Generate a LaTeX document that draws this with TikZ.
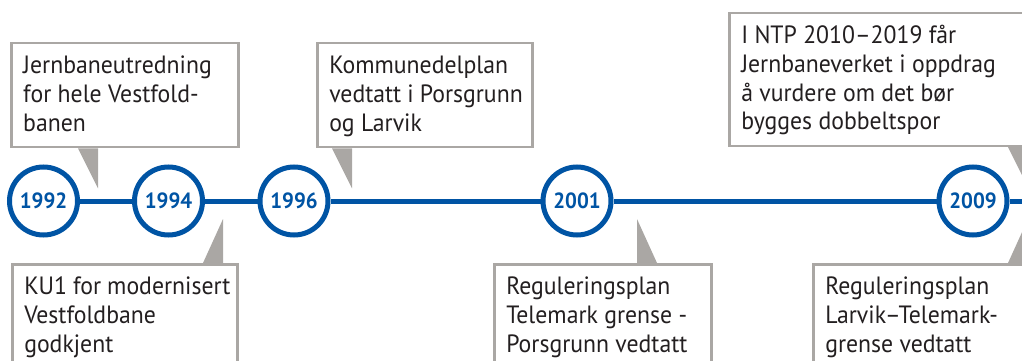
\documentclass[tikz,border=0pt]{standalone}
\usepackage{fontspec}
\setmainfont{PT Sans}[FakeStretch=0.95]
\usepackage{tikz}
\usetikzlibrary{positioning}
\definecolor{railblue}{RGB}{0,84,164}
\definecolor{framegray}{RGB}{170,167,164}
\definecolor{notegray}{RGB}{35,31,32}

\begin{document}
\begin{tikzpicture}[
    x=1pt, y=-1pt,
    node distance=52pt,
    year/.style={circle, draw=railblue, fill=white, line width=5pt, minimum size=68pt, inner sep=0pt, text=railblue, font=\fontsize{22}{24}\selectfont\bfseries},
    note/.style={rectangle, draw=framegray, fill=white, line width=2.5pt, text width=#1, align=left, inner xsep=12pt, inner ysep=10pt, text=notegray, font=\fontsize{25}{28.7}\selectfont,
        execute at begin node={\spaceskip=0pt\rightskip=0pt plus 1fil minus 30pt\hyphenpenalty=10000\rule{0pt}{20.5pt}},
        execute at end node=\rule[-6pt]{0pt}{6pt}},
    pointer/.style={fill=framegray},
    track/.style={draw=railblue, line width=5pt},
]
    \useasboundingbox (0,0) rectangle (1022,361);
    \clip (0,0) rectangle (1022,361);

    % Years on the line
    \node[year] (y1992) at (43.5,201) {1992};
    \node[year, right=of y1992] (y1994) {1994};
    \node[year, right=52.5pt of y1994] (y1996) {1996};
    \node[year, right=210pt of y1996] (y2001) {2001};
    \node[year, right=323pt of y2001] (y2009) {2009};
    \coordinate (trackend) at (1040,201);

    % Line between the years
    \draw[track] (y1992) -- (y1994) (y1994) -- (y1996) (y1996) -- (y2001) (y2001) -- (y2009) (y2009) -- (trackend);

    % Notes above
    \node[note=203pt, anchor=north west] (n1992) at (10,42) {Jernbaneutredning\\for hele Vestfold-\\banen};
    \node[note=191pt, anchor=north west] (n1996) at (316,42) {Kommunedelplan\\vedtatt i Porsgrunn\\og Larvik};
    \node[note=305pt, anchor=north west] (n2009a) at (728,12) {I NTP 2010--2019 får\\Jernbaneverket i oppdrag\\å vurdere om det bør\\bygges dobbeltspor};

    % Notes below
    \node[note=201pt, anchor=north west] (n1994) at (11,263) {KU1 for modernisert\\Vestfoldbane\\godkjent};
    \node[note=193pt, anchor=north west] (n2001) at (493,263) {Reguleringsplan\\Telemark grense -\\Porsgrunn vedtatt};
    \node[note=215pt, anchor=north west] (n2009b) at (812,263) {Reguleringsplan\\Larvik--Telemark-\\grense vedtatt};

    % Pointers
    \fill[pointer] ([xshift=68pt]n1992.south west) -- ([xshift=88pt]n1992.south west) -- ++(0,40) -- cycle;
    \fill[pointer] ([xshift=16pt]n1996.south west) -- ([xshift=36pt]n1996.south west) -- ++(0,40) -- cycle;
    \fill[pointer] ([xshift=280pt]n2009a.south west) -- ([xshift=300pt]n2009a.south west) -- ++(0,40) -- cycle;
    \fill[pointer] ([xshift=192pt]n1994.north west) -- ([xshift=212pt]n1994.north west) -- ++(0,-44) -- cycle;
    \fill[pointer] ([xshift=144pt]n2001.north west) -- ([xshift=164pt]n2001.north west) -- ([xshift=144pt,yshift=44pt]n2001.north west) -- cycle;
    \fill[pointer] ([xshift=196pt]n2009b.north west) -- ([xshift=216pt]n2009b.north west) -- ++(0,-44) -- cycle;

\end{tikzpicture}
\end{document}
